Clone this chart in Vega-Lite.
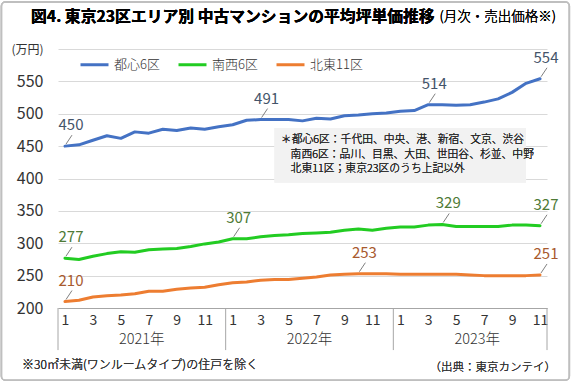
{
  "$schema": "https://vega.github.io/schema/vega-lite/v6.json",
  "width": 489,
  "height": 259,
  "autosize": {"type": "none"},
  "padding": {"left": 58, "top": 49, "right": 25, "bottom": 75},
  "background": "white",
  "config": {
    "font": "Noto Sans CJK JP",
    "view": {"stroke": null},
    "axis": {"labelOverlap": false, "tickCount": 60}
  },
  "datasets": {
    "prices": [
      {"t": 1, "area": "都心6区", "v": 450, "lab": true},
      {"t": 2, "area": "都心6区", "v": 452},
      {"t": 3, "area": "都心6区", "v": 459},
      {"t": 4, "area": "都心6区", "v": 466},
      {"t": 5, "area": "都心6区", "v": 462},
      {"t": 6, "area": "都心6区", "v": 472},
      {"t": 7, "area": "都心6区", "v": 470},
      {"t": 8, "area": "都心6区", "v": 476},
      {"t": 9, "area": "都心6区", "v": 474},
      {"t": 10, "area": "都心6区", "v": 478},
      {"t": 11, "area": "都心6区", "v": 476},
      {"t": 12, "area": "都心6区", "v": 480},
      {"t": 13, "area": "都心6区", "v": 483},
      {"t": 14, "area": "都心6区", "v": 490},
      {"t": 15, "area": "都心6区", "v": 491, "lab": true},
      {"t": 16, "area": "都心6区", "v": 491},
      {"t": 17, "area": "都心6区", "v": 491},
      {"t": 18, "area": "都心6区", "v": 489},
      {"t": 19, "area": "都心6区", "v": 493},
      {"t": 20, "area": "都心6区", "v": 492},
      {"t": 21, "area": "都心6区", "v": 497},
      {"t": 22, "area": "都心6区", "v": 498},
      {"t": 23, "area": "都心6区", "v": 500},
      {"t": 24, "area": "都心6区", "v": 501},
      {"t": 25, "area": "都心6区", "v": 504},
      {"t": 26, "area": "都心6区", "v": 505},
      {"t": 27, "area": "都心6区", "v": 514, "lab": true},
      {"t": 28, "area": "都心6区", "v": 514},
      {"t": 29, "area": "都心6区", "v": 513},
      {"t": 30, "area": "都心6区", "v": 514},
      {"t": 31, "area": "都心6区", "v": 518},
      {"t": 32, "area": "都心6区", "v": 523},
      {"t": 33, "area": "都心6区", "v": 533},
      {"t": 34, "area": "都心6区", "v": 547},
      {"t": 35, "area": "都心6区", "v": 554, "lab": true},
      {"t": 1, "area": "南西6区", "v": 277, "lab": true},
      {"t": 2, "area": "南西6区", "v": 275},
      {"t": 3, "area": "南西6区", "v": 280},
      {"t": 4, "area": "南西6区", "v": 284},
      {"t": 5, "area": "南西6区", "v": 287},
      {"t": 6, "area": "南西6区", "v": 286},
      {"t": 7, "area": "南西6区", "v": 290},
      {"t": 8, "area": "南西6区", "v": 291},
      {"t": 9, "area": "南西6区", "v": 292},
      {"t": 10, "area": "南西6区", "v": 295},
      {"t": 11, "area": "南西6区", "v": 299},
      {"t": 12, "area": "南西6区", "v": 302},
      {"t": 13, "area": "南西6区", "v": 307, "lab": true},
      {"t": 14, "area": "南西6区", "v": 307},
      {"t": 15, "area": "南西6区", "v": 310},
      {"t": 16, "area": "南西6区", "v": 312},
      {"t": 17, "area": "南西6区", "v": 313},
      {"t": 18, "area": "南西6区", "v": 315},
      {"t": 19, "area": "南西6区", "v": 316},
      {"t": 20, "area": "南西6区", "v": 317},
      {"t": 21, "area": "南西6区", "v": 320},
      {"t": 22, "area": "南西6区", "v": 322},
      {"t": 23, "area": "南西6区", "v": 320},
      {"t": 24, "area": "南西6区", "v": 323},
      {"t": 25, "area": "南西6区", "v": 325},
      {"t": 26, "area": "南西6区", "v": 325},
      {"t": 27, "area": "南西6区", "v": 328},
      {"t": 28, "area": "南西6区", "v": 329, "lab": true},
      {"t": 29, "area": "南西6区", "v": 326},
      {"t": 30, "area": "南西6区", "v": 326},
      {"t": 31, "area": "南西6区", "v": 326},
      {"t": 32, "area": "南西6区", "v": 326},
      {"t": 33, "area": "南西6区", "v": 328},
      {"t": 34, "area": "南西6区", "v": 328},
      {"t": 35, "area": "南西6区", "v": 327, "lab": true},
      {"t": 1, "area": "北東11区", "v": 210, "lab": true},
      {"t": 2, "area": "北東11区", "v": 212},
      {"t": 3, "area": "北東11区", "v": 217},
      {"t": 4, "area": "北東11区", "v": 219},
      {"t": 5, "area": "北東11区", "v": 220},
      {"t": 6, "area": "北東11区", "v": 222},
      {"t": 7, "area": "北東11区", "v": 226},
      {"t": 8, "area": "北東11区", "v": 226},
      {"t": 9, "area": "北東11区", "v": 229},
      {"t": 10, "area": "北東11区", "v": 231},
      {"t": 11, "area": "北東11区", "v": 232},
      {"t": 12, "area": "北東11区", "v": 236},
      {"t": 13, "area": "北東11区", "v": 239},
      {"t": 14, "area": "北東11区", "v": 240},
      {"t": 15, "area": "北東11区", "v": 243},
      {"t": 16, "area": "北東11区", "v": 244},
      {"t": 17, "area": "北東11区", "v": 244},
      {"t": 18, "area": "北東11区", "v": 246},
      {"t": 19, "area": "北東11区", "v": 248},
      {"t": 20, "area": "北東11区", "v": 251},
      {"t": 21, "area": "北東11区", "v": 252},
      {"t": 22, "area": "北東11区", "v": 253, "lab": true},
      {"t": 23, "area": "北東11区", "v": 253},
      {"t": 24, "area": "北東11区", "v": 253},
      {"t": 25, "area": "北東11区", "v": 252},
      {"t": 26, "area": "北東11区", "v": 252},
      {"t": 27, "area": "北東11区", "v": 252},
      {"t": 28, "area": "北東11区", "v": 252},
      {"t": 29, "area": "北東11区", "v": 252},
      {"t": 30, "area": "北東11区", "v": 251},
      {"t": 31, "area": "北東11区", "v": 250},
      {"t": 32, "area": "北東11区", "v": 250},
      {"t": 33, "area": "北東11区", "v": 250},
      {"t": 34, "area": "北東11区", "v": 250},
      {"t": 35, "area": "北東11区", "v": 251, "lab": true}
    ],
    "years": [
      {"mid": 6.5, "year": "2021年"},
      {"mid": 18.5, "year": "2022年"},
      {"mid": 30.5, "year": "2023年"}
    ],
    "bounds": [
      {"b": 0.5},
      {"b": 12.5},
      {"b": 24.5},
      {"b": 35.5}
    ]
  },
  "layer": [
    {
      "data": {"name": "prices"},
      "mark": {"type": "line", "strokeWidth": 3, "strokeCap": "round", "strokeJoin": "round"},
      "encoding": {
        "x": {
          "field": "t",
          "type": "quantitative",
          "scale": {"domain": [0.5, 35.5], "nice": false, "zero": false},
          "axis": {
            "values": [1, 3, 5, 7, 9, 11, 13, 15, 17, 19, 21, 23, 25, 27, 29, 31, 33, 35],
            "tickCount": 60,
            "labelExpr": "(datum.value - 1) % 12 + 1",
            "ticks": false,
            "tickSize": 0,
            "grid": false,
            "domainColor": "#a6a6a6",
            "labelFontSize": 14,
            "labelColor": "#333333",
            "labelPadding": 5,
            "labelFlush": false,
            "labelOverlap": false,
            "title": null
          }
        },
        "y": {
          "field": "v",
          "type": "quantitative",
          "scale": {"domain": [200, 600], "nice": false, "zero": false},
          "axis": {
            "values": [200, 250, 300, 350, 400, 450, 500, 550, 600],
            "tickCount": 60,
            "labelExpr": "datum.value == 600 ? '(万円)' : datum.label",
            "ticks": false,
            "tickSize": 0,
            "domain": false,
            "gridColor": "#d9d9d9",
            "labelFontSize": {"condition": {"test": "datum.value == 600", "value": 12}, "value": 16},
            "labelColor": "#333333",
            "labelPadding": 15,
            "labelOverlap": false,
            "title": null
          }
        },
        "color": {
          "field": "area",
          "type": "nominal",
          "sort": ["都心6区", "南西6区", "北東11区"],
          "scale": {"domain": ["都心6区", "南西6区", "北東11区"], "range": ["#4472C4", "#22CC22", "#ED7D31"]},
          "legend": {
            "orient": "none",
            "legendX": 21,
            "legendY": 0,
            "direction": "horizontal",
            "gridAlign": "all",
            "title": null,
            "symbolType": "stroke",
            "symbolSize": 784,
            "symbolStrokeWidth": 3,
            "labelFontSize": 13,
            "labelFontWeight": 300,
            "labelColor": "#333333",
            "labelOffset": 4,
            "columnPadding": 5
          }
        }
      }
    },
    {
      "data": {"name": "years"},
      "mark": {"type": "rect", "fill": null, "fillOpacity": 0, "stroke": "#bfbfbf", "strokeWidth": 1.5, "cornerRadius": 4},
      "encoding": {
        "x": {"datum": -3.55},
        "x2": {"datum": 37.1},
        "y": {"datum": 88.5},
        "y2": {"datum": 672.5}
      }
    },
    {
      "data": {"name": "years"},
      "mark": {"type": "rect", "fill": "#f2f2f2"},
      "encoding": {
        "x": {"datum": 16},
        "x2": {"datum": 34},
        "y": {"datum": 394},
        "y2": {"datum": 478}
      }
    },
    {
      "data": {"name": "prices"},
      "transform": [{"filter": "datum.lab"}],
      "mark": {"type": "rule", "color": "#808080", "strokeWidth": 1, "xOffset": 1, "yOffset": -2, "x2Offset": 7, "y2Offset": -11},
      "encoding": {
        "x": {"field": "t", "type": "quantitative"},
        "x2": {"field": "t"},
        "y": {"field": "v", "type": "quantitative"},
        "y2": {"field": "v"}
      }
    },
    {
      "data": {"name": "prices"},
      "transform": [{"filter": "datum.lab"}],
      "mark": {"type": "text", "fontSize": 15, "dx": 6, "dy": -21, "align": "center", "baseline": "middle"},
      "encoding": {
        "x": {"field": "t", "type": "quantitative"},
        "y": {"field": "v", "type": "quantitative"},
        "text": {"field": "v", "type": "quantitative"},
        "color": {
          "condition": [
            {"test": "datum.area == '都心6区'", "value": "#44546A"},
            {"test": "datum.area == '南西6区'", "value": "#4E7A36"}
          ],
          "value": "#A85A2E"
        }
      }
    },
    {
      "data": {"name": "bounds"},
      "mark": {"type": "rule", "color": "#a6a6a6", "strokeWidth": 1},
      "encoding": {
        "x": {"field": "b", "type": "quantitative"},
        "y": {"datum": 200},
        "y2": {"datum": 135}
      }
    },
    {
      "data": {"name": "years"},
      "mark": {"type": "text", "fontSize": 14.5, "fontWeight": 300, "color": "#333333", "align": "center", "baseline": "middle"},
      "encoding": {
        "x": {"field": "mid", "type": "quantitative"},
        "y": {"datum": 150},
        "text": {"field": "year"}
      }
    },
    {
      "data": {"name": "years"},
      "mark": {"type": "text", "fontSize": 10.8, "fontWeight": 300, "color": "#262626", "align": "left", "baseline": "middle"},
      "encoding": {
        "x": {"datum": 16.45},
        "y": {"datum": 459},
        "text": {"value": "＊都心6区：千代田、中央、港、新宿、文京、渋谷"}
      }
    },
    {
      "data": {"name": "years"},
      "mark": {"type": "text", "fontSize": 10.8, "fontWeight": 300, "color": "#262626", "align": "left", "baseline": "middle"},
      "encoding": {
        "x": {"datum": 17.15},
        "y": {"datum": 436.5},
        "text": {"value": "南西6区：品川、目黒、大田、世田谷、杉並、中野"}
      }
    },
    {
      "data": {"name": "years"},
      "mark": {"type": "text", "fontSize": 10.8, "fontWeight": 300, "color": "#262626", "align": "left", "baseline": "middle"},
      "encoding": {
        "x": {"datum": 17.15},
        "y": {"datum": 414},
        "text": {"value": "北東11区；東京23区のうち上記以外"}
      }
    },
    {
      "data": {"name": "years"},
      "mark": {"type": "text", "fontSize": 12, "fontWeight": 300, "color": "#333333", "align": "left", "baseline": "middle"},
      "encoding": {
        "x": {"datum": -2.07},
        "y": {"datum": 112},
        "text": {"value": "※30㎡未満(ワンルームタイプ)の住戸を除く"}
      }
    },
    {
      "data": {"name": "years"},
      "mark": {"type": "text", "fontSize": 11.5, "fontWeight": 300, "color": "#333333", "align": "right", "baseline": "middle"},
      "encoding": {
        "x": {"datum": 36.15},
        "y": {"datum": 107},
        "text": {"value": "（出典：東京カンテイ）"}
      }
    },
    {
      "data": {"name": "years"},
      "mark": {"type": "text", "fontSize": 15.8, "fontWeight": "bold", "color": "#000000", "align": "left", "baseline": "middle"},
      "encoding": {
        "x": {"datum": -1.43},
        "y": {"datum": 649},
        "text": {"value": "図4. 東京23区エリア別 中古マンションの平均坪単価推移"}
      }
    },
    {
      "data": {"name": "years"},
      "mark": {"type": "text", "fontSize": 13.5, "fontWeight": 300, "color": "#000000", "align": "right", "baseline": "middle"},
      "encoding": {
        "x": {"datum": 36.15},
        "y": {"datum": 649},
        "text": {"value": "(月次・売出価格※)"}
      }
    }
  ]
}
